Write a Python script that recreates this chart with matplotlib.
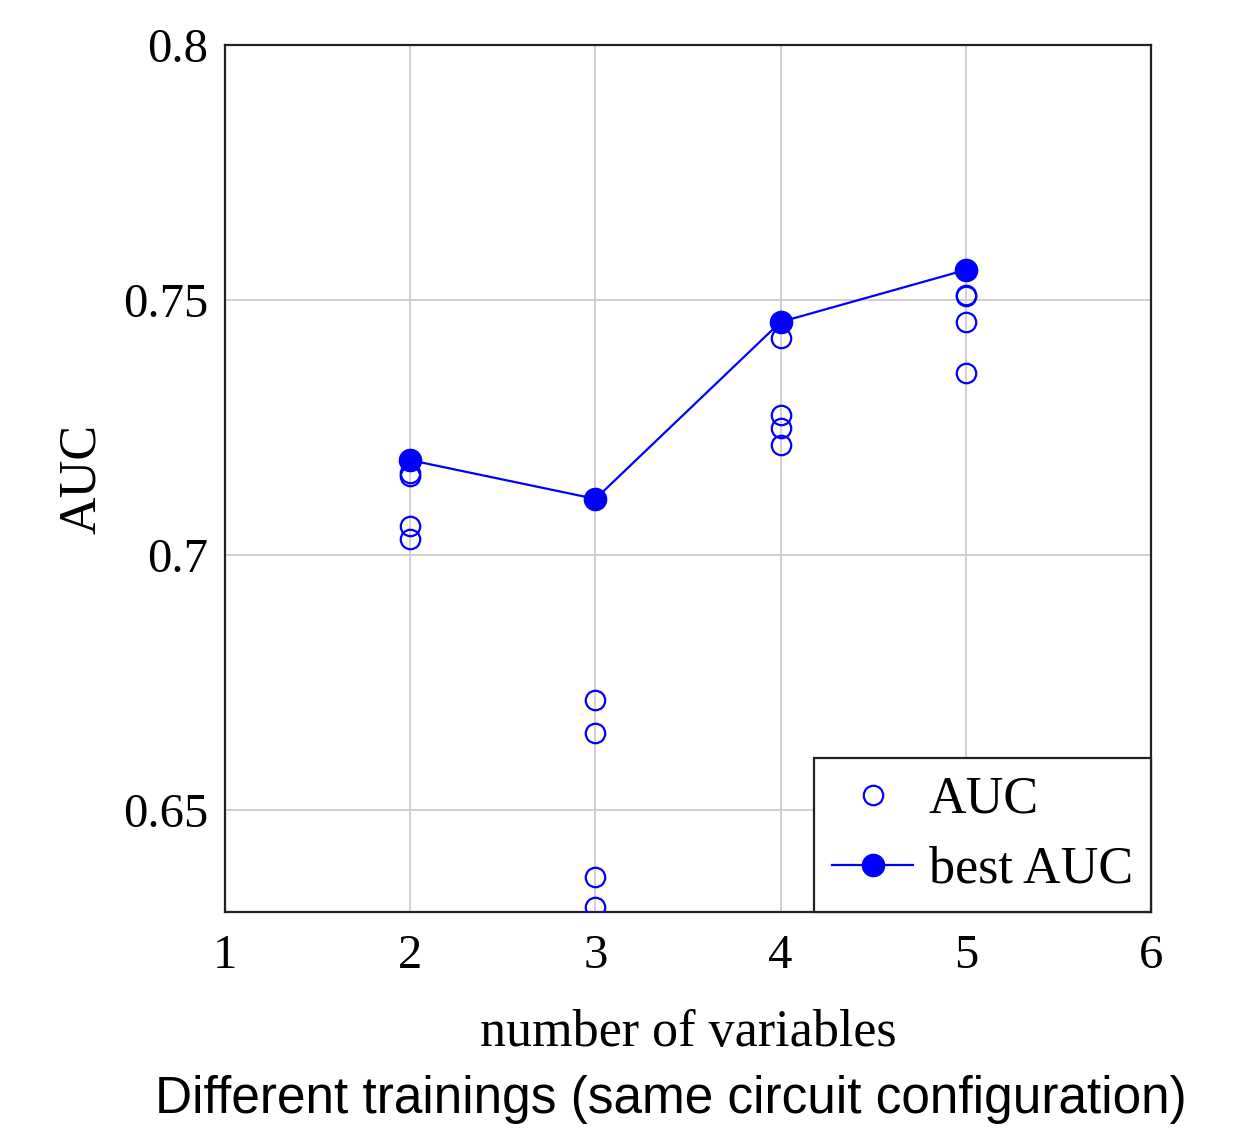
import matplotlib
matplotlib.use("Agg")
import matplotlib.pyplot as plt

# Data
n_vars_all = [2, 2, 2, 2, 2,
              3, 3, 3, 3, 3,
              4, 4, 4, 4, 4,
              5, 5, 5, 5, 5]
auc_all = [0.7186, 0.7160, 0.7155, 0.7057, 0.7031,
           0.7110, 0.6716, 0.6651, 0.6369, 0.6310,
           0.7457, 0.7425, 0.7275, 0.7249, 0.7216,
           0.7559, 0.7510, 0.7508, 0.7457, 0.7357]
n_vars_best = [2, 3, 4, 5]
auc_best = [0.7186, 0.7110, 0.7457, 0.7559]

x_ticks = [1, 2, 3, 4, 5, 6]
y_ticks = [0.65, 0.7, 0.75, 0.8]
y_tick_labels = ["0.65", "0.7", "0.75", "0.8"]

serif = ["Liberation Serif", "DejaVu Serif"]
blue = (0, 0, 1)

fig = plt.figure(figsize=(12.41, 11.28), dpi=100)
ax = fig.add_axes([0.1813, 0.1915, 0.7462, 0.7686])

ax.plot(n_vars_all, auc_all, linestyle="none", marker="o", markersize=14,
        markerfacecolor="none", markeredgecolor=blue, markeredgewidth=1.6,
        label="AUC", zorder=3)
ax.plot(n_vars_best, auc_best, color=blue, linewidth=1.6, marker="o",
        markersize=16, markerfacecolor=blue, markeredgecolor=blue,
        label="best AUC", zorder=4)

ax.set_xlim(1, 6)
ax.set_ylim(0.63, 0.8)
ax.set_xticks(x_ticks)
ax.set_xticklabels([str(v) for v in x_ticks], fontfamily=serif, fontsize=35)
ax.set_yticks(y_ticks)
ax.set_yticklabels(y_tick_labels, fontfamily=serif, fontsize=35)
ax.tick_params(axis="x", length=0, pad=16)
ax.tick_params(axis="y", length=0, pad=12)
ax.grid(True, color="#cccccc", linewidth=1.3)
ax.set_axisbelow(True)
for s in ax.spines.values():
    s.set_linewidth(1.6)
    s.set_color("#222222")

ax.set_xlabel("number of variables", fontfamily=serif, fontsize=37.5, labelpad=22)
ax.set_ylabel("AUC", fontfamily=serif, fontsize=37.5, labelpad=12)

leg = ax.legend(loc="lower right", borderaxespad=0, fancybox=False,
                edgecolor="#222222", framealpha=1,
                prop={"family": serif, "size": 37.5}, numpoints=1,
                handlelength=1.55, handletextpad=0.3, labelspacing=0.42,
                borderpad=0.35)
leg.get_frame().set_linewidth(1.6)

fig.text(671 / 1241, 1 - 1100 / 1128, "Different trainings (same circuit configuration)",
         ha="center", va="center", fontsize=37,
         fontfamily=["Liberation Sans", "DejaVu Sans"])

fig.savefig("out.png", dpi=100)
